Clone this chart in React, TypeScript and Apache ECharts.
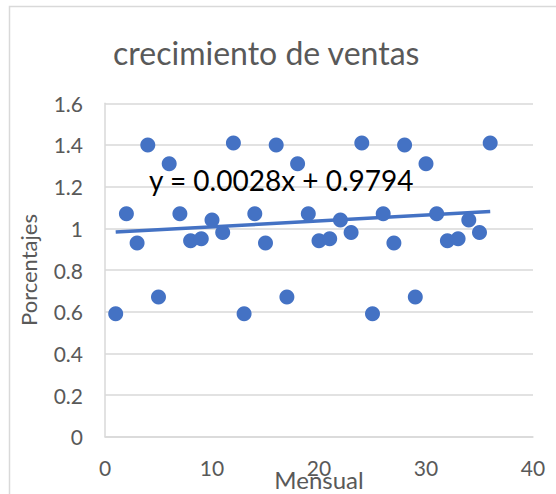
import React, { useEffect, useRef } from "react";
import * as echarts from "echarts";

const months = [
  1, 2, 3, 4, 5, 6, 7, 8, 9, 10, 11, 12,
  13, 14, 15, 16, 17, 18, 19, 20, 21, 22, 23, 24,
  25, 26, 27, 28, 29, 30, 31, 32, 33, 34, 35, 36,
];
const growth = [
  0.59, 1.07, 0.93, 1.40, 0.67, 1.31, 1.07, 0.94, 0.95, 1.04, 0.98, 1.41,
  0.59, 1.07, 0.93, 1.40, 0.67, 1.31, 1.07, 0.94, 0.95, 1.04, 0.98, 1.41,
  0.59, 1.07, 0.93, 1.40, 0.67, 1.31, 1.07, 0.94, 0.95, 1.04, 0.98, 1.41,
];
const trendSlope = 0.0028;
const trendIntercept = 0.9794;
const trendRange = [1, 36];
const yTicks = [0, 0.2, 0.4, 0.6, 0.8, 1, 1.2, 1.4, 1.6];
const xTicks = [0, 10, 20, 30, 40];
const titleText = "crecimiento de ventas";
const xName = "Mensual";
const yName = "Porcentajes";
const equationText = "y = 0.0028x + 0.9794";

export default function App() {
  const ref = useRef<HTMLDivElement>(null);
  useEffect(() => {
    document.body.style.margin = "0";
    const chart = echarts.init(ref.current!, null, { renderer: "svg" });
    const font = "Lato";
    const gray = "#595959";
    const scatterData = months.map((m, i) => [m, growth[i]]);
    const trendData = trendRange.map((x) => [x, trendIntercept + trendSlope * x]);
    chart.setOption({
      animation: false,
      backgroundColor: "#ffffff",
      textStyle: { fontFamily: font },
      title: {
        text: titleText,
        left: 108,
        top: 31,
        textStyle: { fontFamily: font, fontSize: 32, fontWeight: "normal", color: gray },
      },
      grid: {
        left: 105,
        right: 23,
        top: 103.3,
        bottom: 57.3,
        containLabel: false,
        outerBoundsMode: "none",
      },
      xAxis: {
        type: "value",
        min: xTicks[0],
        max: xTicks[xTicks.length - 1],
        interval: 10,
        name: xName,
        nameLocation: "middle",
        nameGap: 31,
        nameMoveOverlap: false,
        nameTextStyle: { fontFamily: font, fontSize: 24, color: gray },
        axisLine: { show: true, lineStyle: { color: "#d9d9d9", width: 1.5 } },
        axisTick: { show: false },
        splitLine: { show: false },
        axisLabel: { color: gray, fontSize: 21, fontFamily: font, margin: 20 },
      },
      yAxis: {
        type: "value",
        min: yTicks[0],
        max: yTicks[yTicks.length - 1],
        interval: 0.2,
        name: yName,
        nameLocation: "middle",
        nameRotate: 90,
        nameGap: 66,
        nameMoveOverlap: false,
        nameTextStyle: { fontFamily: font, fontSize: 22, color: gray },
        axisLine: { show: true, lineStyle: { color: "#d9d9d9", width: 1.5 } },
        axisTick: { show: false },
        splitLine: { show: true, lineStyle: { color: "#d9d9d9", width: 1.5 } },
        axisLabel: { color: gray, fontSize: 21, fontFamily: font, margin: 22 },
      },
      graphic: [
        {
          type: "rect",
          left: 7,
          top: 4,
          shape: { width: 700, height: 700 },
          style: { fill: "none", stroke: "#d9d9d9", lineWidth: 1.5 },
          silent: true,
          z: -10,
        },
        {
          type: "text",
          left: 149,
          top: 166,
          style: { text: equationText, fontFamily: font, fontSize: 28, fill: "#000000" },
          z: 100,
        },
      ],
      series: [
        {
          type: "line",
          data: trendData,
          showSymbol: false,
          lineStyle: { color: "#4472C4", width: 3.5, opacity: 1 },
          z: 2,
        },
        {
          type: "scatter",
          data: scatterData,
          symbol: "circle",
          symbolSize: 15,
          itemStyle: { color: "#4472C4", opacity: 1 },
          z: 3,
        },
      ],
    });
    return () => chart.dispose();
  }, []);
  return <div ref={ref} style={{ width: 556, height: 494 }} />;
}
